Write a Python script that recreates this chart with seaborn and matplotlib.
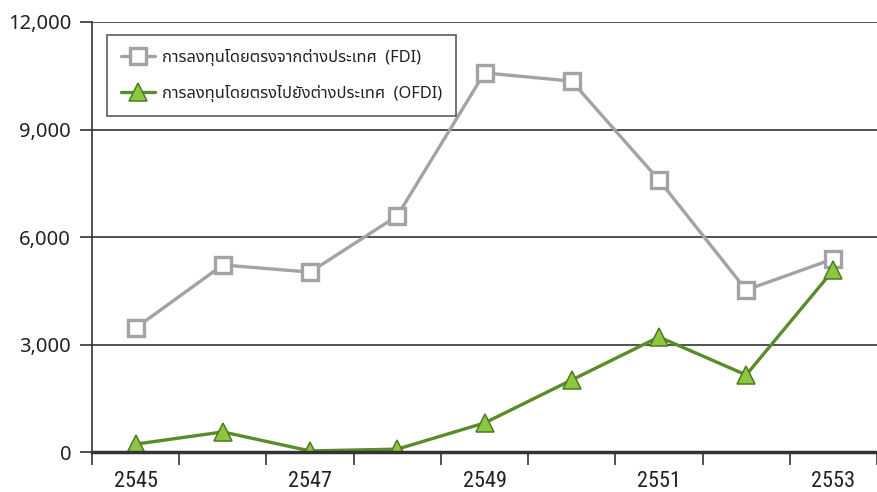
import matplotlib
matplotlib.use("Agg")
import matplotlib.pyplot as plt
from matplotlib import font_manager
import seaborn as sns
import pandas as pd
import numpy as np

years = ["2545", "2546", "2547", "2548", "2549", "2550", "2551", "2552", "2553"]
fdi = [3460, 5220, 5020, 6590, 10580, 10350, 7590, 4520, 5390]
ofdi = [220, 560, 30, 80, 810, 2010, 3210, 2150, 5080]
fdi_label = "การลงทุนโดยตรงจากต่างประเทศ  (FDI)"
ofdi_label = "การลงทุนโดยตรงไปยังต่างประเทศ  (OFDI)"
yticks = [0, 3000, 6000, 9000, 12000]

sns.set_theme(style="white")
avail = {f.name for f in font_manager.fontManager.ttflist}
fams = [f for f in ["Noto Sans Thai", "Noto Sans Thai Looped", "Loma", "Garuda", "Norasi", "Noto Sans", "DejaVu Sans"] if f in avail]
plt.rcParams['font.family'] = fams
narrow = [f for f in ["Liberation Sans Narrow", "Roboto Condensed", "Noto Sans", "DejaVu Sans"] if f in avail]

fig = plt.figure(figsize=(8.77, 4.92), dpi=100)
ax = fig.add_axes([92/877, 1-452/492, 1-92/877, (452-22)/492])

df = pd.DataFrame({"x": np.arange(len(years)), "fdi": fdi, "ofdi": ofdi})
sns.lineplot(data=df, x="x", y="fdi", ax=ax, color="#a3a3a5", lw=2.4,
             marker="s", markersize=11.5, markerfacecolor="white",
             markeredgecolor="#a3a3a5", markeredgewidth=2.4, label=fdi_label)
sns.lineplot(data=df, x="x", y="ofdi", ax=ax, color="#5b8c2a", lw=2.4,
             marker="^", markersize=12.5, markerfacecolor="#8dc63f",
             markeredgecolor="#4f7a22", markeredgewidth=1.1, label=ofdi_label)

ax.set_xlim(-0.5, (877-92)/88.1 - 0.5)
ax.set_ylim(0, 12000)
ax.set_yticks(yticks)
ax.set_yticklabels([f"{v:,}" for v in yticks], fontsize=14.5, color="#222222")
ax.set_xticks(np.arange(0, len(years), 2))
ax.set_xticklabels(years[::2], fontsize=16, color="#222222", family=narrow)
ax.set_xticks(np.arange(-0.5, len(years), 1), minor=True)
ax.tick_params(axis="x", which="major", length=0, pad=14)
ax.tick_params(axis="x", which="minor", length=9, width=1.2, color="#333333", direction="out", bottom=True)
ax.tick_params(axis="y", which="major", length=9, width=1.2, color="#333333", direction="out", left=True, pad=6)
ax.set_xlabel("")
ax.set_ylabel("")
for v in yticks[1:]:
    ax.axhline(v, color="#333333", lw=1.2, zorder=0)
for s in ["top", "right"]:
    ax.spines[s].set_visible(False)
ax.spines["left"].set_color("#333333")
ax.spines["left"].set_linewidth(1.2)
ax.spines["bottom"].set_color("#333333")
ax.spines["bottom"].set_linewidth(2.5)

leg = ax.legend(loc="upper left", bbox_to_anchor=((107-92)/785, 1-(35-22)/430),
                borderaxespad=0, fontsize=11.8, frameon=True, fancybox=False,
                edgecolor="#333333", handlelength=2.1, handletextpad=0.4,
                borderpad=0.85, labelspacing=1.15)
leg.get_frame().set_linewidth(1.2)
for t in leg.get_texts():
    t.set_color("#222222")

fig.savefig("out.png", dpi=100)
